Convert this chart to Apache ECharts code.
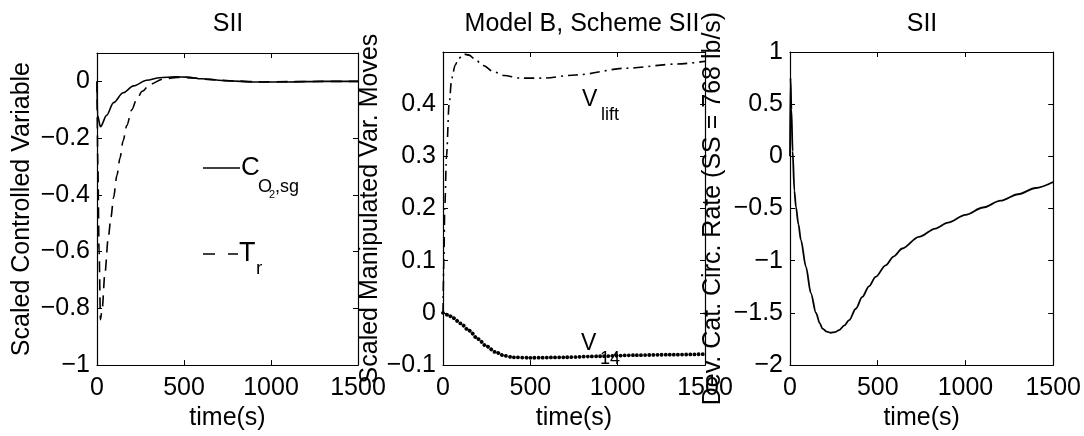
<!DOCTYPE html>
<html>
<head>
<meta charset="utf-8">
<script src="https://cdn.jsdelivr.net/npm/echarts@6/dist/echarts.min.js"></script>
<style>
html,body{margin:0;padding:0;background:#fff;}
#chart{width:1084px;height:436px;}
</style>
</head>
<body>
<div id="chart"></div>
<script>
// ---------- data ----------
const timeTicks = [0, 500, 1000, 1500];

// Panel 1: scaled controlled variables
const co2Time   = [0, 3, 20, 55, 95, 150, 210, 285, 360, 450, 520, 600, 750, 900, 1100, 1300, 1500];
const co2Values = [0, -0.12, -0.16, -0.12, -0.075, -0.04, -0.016, 0.004, 0.013, 0.016, 0.015, 0.009, 0.002, -0.002, -0.002, 0, 0];

const trTime   = [0, 5, 12, 20, 30, 45, 65, 80, 95, 115, 132, 150, 171, 200, 228, 260, 305, 380, 460, 550, 650, 800, 950, 1100, 1300, 1500];
const trValues = [0, -0.3, -0.6, -0.84, -0.8, -0.68, -0.55, -0.48, -0.41, -0.33, -0.27, -0.21, -0.156, -0.1, -0.063, -0.035, -0.01, 0.008, 0.014, 0.012, 0.006, 0.001, -0.002, -0.001, 0, 0];

// Panel 2: scaled manipulated variable moves
const liftTime   = [0, 5, 10, 20, 35, 50, 70, 90, 120, 150, 180, 230, 290, 350, 440, 570, 760, 1050, 1340, 1500];
const liftValues = [0, 0.1, 0.2, 0.3, 0.4, 0.45, 0.475, 0.488, 0.496, 0.494, 0.487, 0.474, 0.462, 0.455, 0.45, 0.45, 0.456, 0.469, 0.477, 0.482];

const v14Time   = [0, 30, 60, 100, 150, 200, 250, 300, 350, 400, 500, 700, 900, 1100, 1300, 1500];
const v14Values = [0, -0.004, -0.01, -0.02, -0.034, -0.05, -0.064, -0.075, -0.082, -0.085, -0.086, -0.085, -0.083, -0.081, -0.08, -0.079];

// Panel 3: deviation of catalyst circulation rate
const circTime   = [0, 3, 8, 15, 25, 34, 48, 62, 91, 119, 148, 170, 185, 210, 233, 255, 280, 310, 337, 375, 412, 450, 488, 545, 590, 640, 734, 829, 900, 1000, 1100, 1200, 1300, 1400, 1500];
const circValues = [0, 0.75, 0.45, 0.05, -0.33, -0.485, -0.65, -0.8, -1.06, -1.31, -1.5, -1.6, -1.65, -1.68, -1.69, -1.685, -1.664, -1.62, -1.57, -1.46, -1.347, -1.245, -1.155, -1.044, -0.96, -0.883, -0.772, -0.692, -0.635, -0.56, -0.49, -0.425, -0.363, -0.303, -0.245];

const y1Ticks = [-1, -0.8, -0.6, -0.4, -0.2, 0];
const y2Ticks = [-0.1, 0, 0.1, 0.2, 0.3, 0.4];
const y3Ticks = [-2, -1.5, -1, -0.5, 0, 0.5, 1];

// ---------- helpers ----------
const FONT = '"Liberation Sans", Arial, Helvetica, sans-serif';
const zip = (t, v) => t.map((x, i) => [x, v[i]]);
const fmt = v => {
  if (Math.abs(v) < 1e-9) return '0';
  return String(+v.toFixed(2)).replace('-', '\u2212');
};
const tickFormatter = ticks => v => ticks.some(t => Math.abs(t - v) < 1e-9) ? fmt(v) : '';

const grids = [
  {left: 97, top: 53, width: 261, height: 315},
  {left: 443, top: 52, width: 262, height: 316},
  {left: 790, top: 52, width: 265, height: 315}
];
const yCfg = [
  {min: -1, max: 0.1, interval: 0.2, ticks: y1Ticks, name: 'Scaled Controlled Variable', gap: 62},
  {min: -0.1, max: 0.5, interval: 0.1, ticks: y2Ticks, name: 'Scaled Manipulated Var. Moves', gap: 58},
  {min: -2, max: 1, interval: 0.5, ticks: y3Ticks, name: 'Dev. Cat. Circ. Rate (SS = 768 lb/s)', gap: 64}
];

const axisLine = {show: true, onZero: false, lineStyle: {color: '#000', width: 1.2}};
const axisTick = {show: true, inside: true, length: 5, lineStyle: {color: '#000', width: 1}};
const labelStyle = {color: '#000', fontFamily: FONT, fontSize: 25};

const xAxis = [], yAxis = [];
grids.forEach((g, i) => {
  xAxis.push({
    type: 'value', gridIndex: i, position: 'bottom',
    min: timeTicks[0], max: timeTicks[timeTicks.length - 1], interval: 500,
    name: 'time(s)', nameLocation: 'middle', nameGap: 32,
    nameTextStyle: {color: '#000', fontFamily: FONT, fontSize: 25},
    axisLine, axisTick, splitLine: {show: false},
    axisLabel: Object.assign({margin: 11, formatter: tickFormatter(timeTicks), showMaxLabel: true, showMinLabel: true}, labelStyle)
  });
  xAxis.push({
    type: 'value', gridIndex: i, position: 'top',
    min: timeTicks[0], max: timeTicks[timeTicks.length - 1], interval: 500,
    axisLine, axisTick, splitLine: {show: false}, axisLabel: {show: false}
  });
  const c = yCfg[i];
  yAxis.push({
    type: 'value', gridIndex: i, position: 'left',
    min: c.min, max: c.max, interval: c.interval,
    name: c.name, nameLocation: 'middle', nameGap: c.gap, nameRotate: 90,
    nameTextStyle: {color: '#000', fontFamily: FONT, fontSize: 25},
    axisLine, axisTick, splitLine: {show: false},
    axisLabel: Object.assign({margin: 7, formatter: tickFormatter(c.ticks)}, labelStyle)
  });
  yAxis.push({
    type: 'value', gridIndex: i, position: 'right',
    min: c.min, max: c.max, interval: c.interval,
    axisLine, axisTick, splitLine: {show: false}, axisLabel: {show: false}
  });
});

const lineSeries = (name, data, gi, lineStyle) => ({
  name, type: 'line', data, xAxisIndex: gi * 2, yAxisIndex: gi * 2,
  showSymbol: false, symbol: 'none', smooth: 0.3, smoothMonotone: 'x',
  lineStyle: Object.assign({color: '#000', width: 1.6}, lineStyle),
  silent: true
});

const series = [
  lineSeries('CO2,sg', zip(co2Time, co2Values), 0, {type: 'solid'}),
  lineSeries('Tr', zip(trTime, trValues), 0, {type: [11, 7]}),
  lineSeries('Vlift', zip(liftTime, liftValues), 1, {type: [10, 5, 2, 5]}),
  lineSeries('V14', zip(v14Time, v14Values), 1, {type: [0.1, 4], width: 3.8, cap: 'round'}),
  lineSeries('circ', zip(circTime, circValues), 2, {type: 'solid', width: 1.8})
];

const txt = (x, y, text, size) => ({
  type: 'text', x, y, silent: true,
  style: {text, font: size + 'px ' + FONT, fill: '#000', align: 'left', verticalAlign: 'middle'}
});

const graphic = [
  {type: 'line', silent: true, shape: {x1: 203, y1: 168, x2: 240, y2: 168}, style: {stroke: '#000', lineWidth: 1.5}},
  txt(241, 168, 'C', 26),
  txt(258, 187, 'O', 18),
  txt(269, 195, '2', 11),
  txt(275, 187, ',sg', 18),
  {type: 'line', silent: true, shape: {x1: 203, y1: 254, x2: 238, y2: 254}, style: {stroke: '#000', lineWidth: 1.5, lineDash: [12, 13]}},
  txt(239, 253.5, 'T', 27),
  txt(256, 269, 'r', 19),
  txt(582, 100, 'V', 23),
  txt(601, 115.5, 'lift', 18),
  txt(581, 344, 'V', 23),
  txt(600, 359.5, '14', 18)
];

const titleStyle = {color: '#000', fontFamily: FONT, fontSize: 25, fontWeight: 'normal'};
const option = {
  animation: false,
  backgroundColor: '#fff',
  title: [
    {text: 'SII', left: 228, top: 12, textAlign: 'center', padding: 0, textStyle: titleStyle},
    {text: 'Model B, Scheme SII', left: 582, top: 12, textAlign: 'center', padding: 0, textStyle: titleStyle},
    {text: 'SII', left: 922, top: 12, textAlign: 'center', padding: 0, textStyle: titleStyle}
  ],
  grid: grids,
  xAxis, yAxis, series, graphic
};

const chart = echarts.init(document.getElementById('chart'), null, {renderer: 'canvas'});
chart.setOption(option);
</script>
</body>
</html>
